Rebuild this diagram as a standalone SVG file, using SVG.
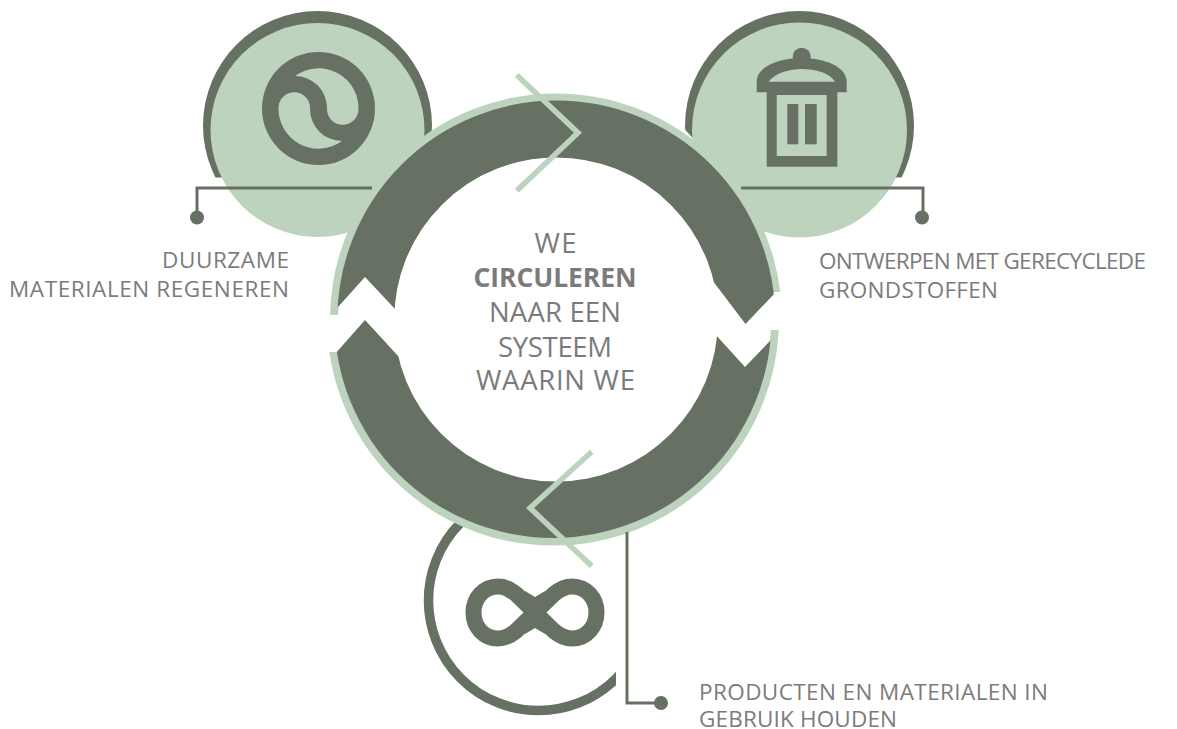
<svg xmlns="http://www.w3.org/2000/svg" width="1177" height="729" viewBox="0 0 1177 729">
<style>
.dark{fill:#667063}
.light{fill:#bdd3bd}
.leader{fill:none;stroke:#667063;stroke-width:3}
.chev{fill:none;stroke:#bdd3bd;stroke-width:5.5}
.halo{fill:none;stroke:#bdd3bd;stroke-width:8}
.band{fill:none;stroke:#667063;stroke-width:57}
text{font-family:"Open Sans","Liberation Sans",sans-serif;fill:#7b7b7b}
.lab{font-size:22.5px}
.mid{font-size:27.5px;text-anchor:middle}
</style>
<defs>
<clipPath id="cutKeep"><rect x="400" y="500" width="216" height="229"/></clipPath>
<clipPath id="cutRegen"><rect x="190" y="0" width="260" height="177.5"/></clipPath>
<clipPath id="cutDesign"><polygon points="675,0 925,0 925,177.5 720,177.5 708,155 680,124"/></clipPath>
<clipPath id="haloTop"><polygon points="300,0 800,0 800,292 556,292 556,315 300,315"/></clipPath>
<clipPath id="haloBottom"><polygon points="300,729 800,729 800,330 556,330 556,352 300,352"/></clipPath>
<clipPath id="bandTop"><polygon points="300,0 800,0 795,272 745.5,324 700,264 556,319 410,325 365,277 320,327"/></clipPath>
<clipPath id="bandBottom"><polygon points="300,729 800,729 795,315 745,367 705,323 556,330 410,369 365,320 320,371"/></clipPath>
</defs>
<rect width="1177" height="729" fill="#ffffff"/>
<g id="node-regenerate">
<circle class="dark" cx="317.5" cy="125.5" r="114.5" clip-path="url(#cutRegen)"/>
<circle class="light" cx="317.5" cy="130" r="107"/>
<circle class="dark" cx="318.5" cy="108.5" r="56.5"/>
<path class="light" d="M295 76A40 40 0 0 1 358.5 110A15.75 15.75 0 0 1 327 108A32 32 0 0 0 295 76Z"/>
<path class="light" d="M342 141A40 40 0 0 1 278.5 107A15.75 15.75 0 0 1 310 109A32 32 0 0 0 342 141Z"/>
<text class="lab" x="289" y="267.5" text-anchor="end" textLength="127">DUURZAME</text>
<text class="lab" x="289" y="296.5" text-anchor="end" textLength="280">MATERIALEN REGENEREN</text>
</g>
<g id="node-design">
<circle class="dark" cx="799.5" cy="125.5" r="114.5" clip-path="url(#cutDesign)"/>
<circle class="light" cx="799.5" cy="130" r="107.5"/>
<circle class="dark" cx="801.7" cy="56.7" r="9"/>
<path class="dark" d="M756.7 92.3V82C756.7 66 780 58 801.7 58C823 58 846.7 66 846.7 82V92.3Z"/>
<path class="light" d="M768.5 81.7C775 73 790 69 801.7 69C815 69 830 73 835 81.7Z"/>
<rect class="dark" x="766.7" y="92" width="70.6" height="74.7"/>
<rect class="light" x="776.7" y="95" width="50" height="61"/>
<rect class="dark" x="787.3" y="104" width="11" height="40.3"/>
<rect class="dark" x="805" y="104" width="11.7" height="40.3"/>
<text class="lab" x="819" y="269" textLength="327">ONTWERPEN MET GERECYCLEDE</text>
<text class="lab" x="819" y="298" textLength="179">GRONDSTOFFEN</text>
</g>
<g id="node-keep">
<circle cx="538.5" cy="600.5" r="110" fill="none" stroke="#667063" stroke-width="9.5" clip-path="url(#cutKeep)"/>
<path d="M535 612.5L516 594C509 589 505 586.5 498 586.5C484 586.5 473.5 598 473.5 612.5C473.5 627 484 638.5 498 638.5C505 638.5 510 636 516 631L554 594C560 589 565 586.5 572 586.5C586 586.5 596.5 598 596.5 612.5C596.5 627 586 638.5 572 638.5C565 638.5 560 636 554 631Z" fill="none" stroke="#667063" stroke-width="16"/>
<polygon class="dark" points="525,591 535,597 545,591 545,634 535,628 525,634"/>
<text class="lab" x="699" y="699.5" textLength="349">PRODUCTEN EN MATERIALEN IN</text>
<text class="lab" x="699" y="727" textLength="198">GEBRUIK HOUDEN</text>
</g>
<g id="node-cycle">
<circle class="halo" cx="556" cy="319.5" r="222" clip-path="url(#haloTop)"/>
<circle class="halo" cx="553" cy="319.5" r="222" clip-path="url(#haloBottom)"/>
<circle class="dark" cx="553" cy="319.5" r="218.5" clip-path="url(#bandBottom)"/>
<circle cx="556" cy="319.5" r="162" fill="#ffffff"/>
<circle class="band" cx="556.3" cy="319.5" r="190.5" clip-path="url(#bandTop)"/>
<text class="mid" x="555.5" y="252.5" textLength="42">WE</text>
<text class="mid" x="555" y="286.7" font-weight="700" style="font-size:26.5px" textLength="163">CIRCULEREN</text>
<text class="mid" x="555" y="321.7" textLength="132">NAAR EEN</text>
<text class="mid" x="555" y="356.7" textLength="114">SYSTEEM</text>
<text class="mid" x="555.5" y="390" textLength="159">WAARIN WE</text>
</g>
<g id="connectors">
<path class="leader" d="M372 188H197V217"/>
<circle class="dark" cx="197" cy="217.5" r="7"/>
<path class="leader" d="M741 188H923V217"/>
<circle class="dark" cx="922" cy="217.5" r="7"/>
<path class="leader" d="M627 532V703H661"/>
<circle class="dark" cx="661" cy="703" r="7"/>
<path class="chev" d="M516.7 75L578 132.7L516.7 190.7"/>
<path class="chev" d="M591.7 451.7L530 508L591.7 566"/>
</g>
</svg>
